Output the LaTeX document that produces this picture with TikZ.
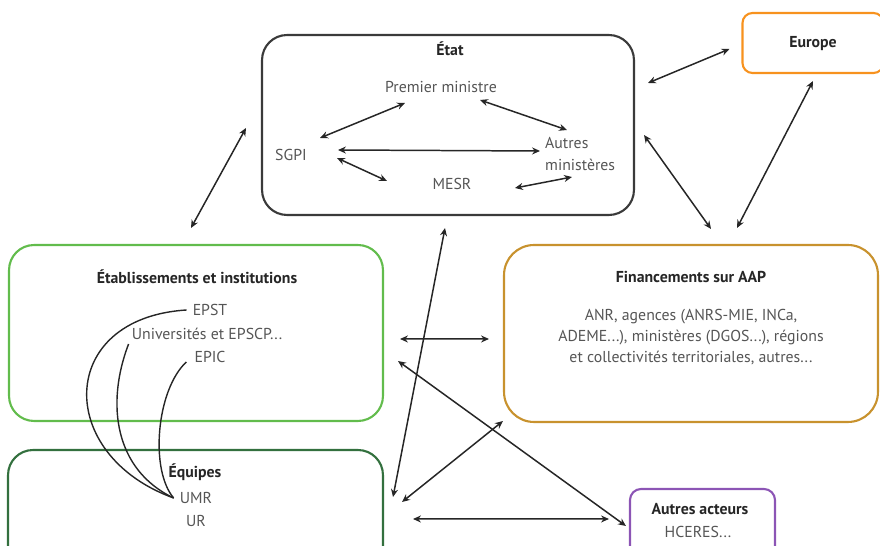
\documentclass[tikz,border=0pt]{standalone}
\usepackage{fontspec}
\setmainfont{PT Sans}
\usetikzlibrary{arrows.meta}
\definecolor{etatgray}{HTML}{3A3A3A}
\definecolor{europeorange}{HTML}{F7921E}
\definecolor{etabgreen}{HTML}{62BC4C}
\definecolor{equipegreen}{HTML}{33703E}
\definecolor{fingold}{HTML}{C8922E}
\definecolor{acteurpurple}{HTML}{8C55B5}
\definecolor{txtgray}{HTML}{555555}
\begin{document}
\begin{tikzpicture}[x=0.02cm,y=-0.02cm,font=\fontsize{9}{12}\selectfont]
	\tikzset{box/.style={draw=#1, line width=1.2pt, rounded corners=0.5cm},
		ttl/.style={font=\fontsize{9}{12}\selectfont\bfseries, text=black!85},
		txt/.style={text=txtgray},
		link/.style={{Stealth[length=4.5pt,width=4pt]}-{Stealth[length=4.5pt,width=4pt]}, line width=0.85pt, black!85},
		curve/.style={line width=0.8pt, black!85}}
	\useasboundingbox (0,0) rectangle (880,546);
	% boxes
	\node[box=etatgray, minimum width=7.44cm, minimum height=3.6cm] (etat) at (448,125) {};
	\node[box=europeorange, rounded corners=0.2cm, minimum width=2.82cm, minimum height=1.2cm] (europe) at (813,43) {};
	\node[box=etabgreen, minimum width=7.48cm, minimum height=3.52cm] (etab) at (196,333) {};
	\node[box=fingold, rounded corners=0.6cm, minimum width=7.48cm, minimum height=3.54cm] (fin) at (691,333.5) {};
	\node[box=equipegreen, minimum width=7.5cm, minimum height=2.5cm] (equipes) at (195.5,512.5) {};
	\node[box=acteurpurple, rounded corners=0.22cm, minimum width=2.9cm, minimum height=1.44cm] (acteurs) at (702.5,525) {};
	% texts
	\node[ttl] (etatT) at (450,49) {État};
	\node[txt] (pm) at (441,87) {Premier ministre};
	\node[txt] (sgpi) at (291,155) {SGPI};
	\node[txt, align=left, anchor=west] (autres) at (539,154) {Autres\\ministères};
	\node[txt] (mesr) at (452,184) {MESR};
	\node[ttl] (europeT) at (813,44) {Europe};
	\node[ttl] (etabT) at (197,277) {Établissements et institutions};
	\node[txt] (epst) at (210,310) {EPST};
	\node[txt] (univ) at (207,334) {Universités et EPSCP...};
	\node[txt] (epic) at (210,357) {EPIC};
	\node[ttl] (finT) at (691,277) {Financements sur AAP};
	\node[txt, align=center] (finS) at (691,337) {ANR, agences (ANRS-MIE, INCa,\\ADEME...), ministères (DGOS...), régions\\et collectivités territoriales, autres...};
	\node[ttl] (equipesT) at (195,472) {Équipes};
	\node[txt] (umr) at (196,498) {UMR};
	\node[txt] (ur) at (196,521) {UR};
	\node[ttl] (acteursT) at (700,509) {Autres acteurs};
	\node[txt] (hceres) at (698,532) {HCERES...};
	% inside Etat
	\draw[link] ([shift={(-36,16)}]pm.center) -- ([shift={(29,-17)}]sgpi.center);
	\draw[link] ([shift={(39,13)}]pm.center) -- ([shift={(28,-24)}]autres.west);
	\draw[link] ([shift={(47,-5)}]sgpi.center) -- ([shift={(1,-3)}]autres.west);
	\draw[link] ([shift={(46,3)}]sgpi.center) -- ([shift={(-65,-3)}]mesr.center);
	\draw[link] ([shift={(63,4)}]mesr.center) -- ([shift={(33,23)}]autres.west);
	% between boxes
	\draw[link] ([shift={(13,-42)}]etat.east) -- ([shift={(-12,6)}]europe.west);
	\draw[link] ([shift={(9,10)}]etat.east) -- ([shift={(20,-15)}]fin.north);
	\draw[link] ([shift={(0,7)}]europe.south) -- ([shift={(46,-16)}]fin.north);
	\draw[link] ([shift={(-15,3)}]etat.west) -- ([shift={(-5,-16)}]etab.north);
	\draw[link] ([shift={(-3,12)}]etat.south) -- ([shift={(9,-15.5)}]equipes.east);
	\draw[link] ([shift={(16,6)}]etab.east) -- ([shift={(-14,5.5)}]fin.west);
	\draw[link] ([shift={(14,28)}]etab.east) -- ([shift={(-3,1)}]acteurs.west);
	\draw[link] ([shift={(18,-10.5)}]equipes.east) -- ([shift={(0,-2)}]fin.south west);
	\draw[link] ([shift={(29,6.5)}]equipes.east) -- ([shift={(-20,-6)}]acteurs.west);
	% etablissements -> UMR
	\draw[curve] (epst.west) .. controls +(-130,8) and +(-119,-43) .. (umr.west);
	\draw[curve] ([shift={(3,-2)}]univ.south west) .. controls +(-23,60) and +(-59,-28) .. (umr.west);
	\draw[curve] ([shift={(-2,5)}]epic.west) .. controls +(-30,28) and +(-24,-28) .. (umr.west);
\end{tikzpicture}
\end{document}
